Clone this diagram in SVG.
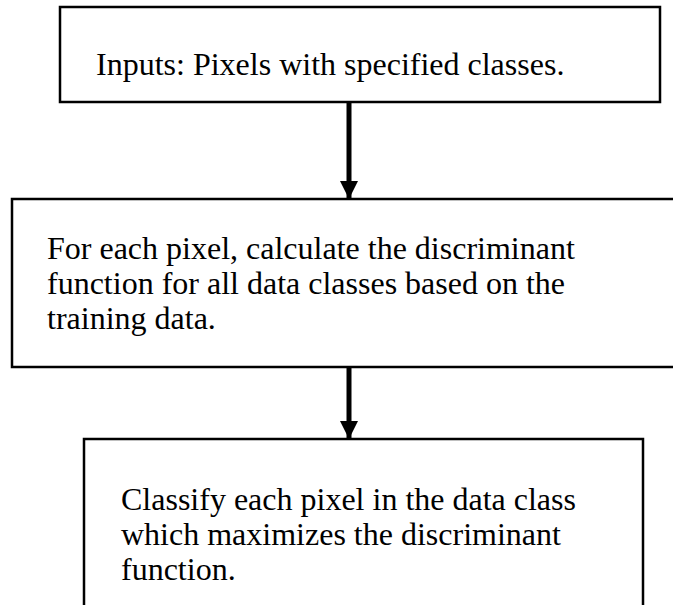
<svg xmlns="http://www.w3.org/2000/svg" width="673" height="605" viewBox="0 0 673 605">
<defs>
<style>
.box{fill:#fff;stroke:#000;stroke-width:2.5}
.t{font-family:"Liberation Serif","Times New Roman",serif;font-size:32px;fill:#000}
.c{stroke:#000;stroke-width:5;fill:none}
</style>
<marker id="ah" markerUnits="userSpaceOnUse" markerWidth="18" markerHeight="18" refX="17" refY="9" orient="auto" viewBox="0 0 18 18">
<path d="M0,0 L18,9 L0,18 Z" fill="#000"/>
</marker>
</defs>
<rect width="673" height="605" fill="#fff"/>
<g id="n1">
<rect class="box" x="60" y="7" width="600" height="95"/>
<text class="t" x="96" y="75">Inputs: Pixels with specified classes.</text>
</g>
<g id="n2">
<rect class="box" x="12" y="199" width="680" height="168"/>
<text class="t" x="47" y="259">For each pixel, calculate the discriminant</text>
<text class="t" x="47" y="294">function for all data classes based on the</text>
<text class="t" x="47" y="329">training data.</text>
</g>
<g id="n3">
<rect class="box" x="84" y="439" width="559" height="190"/>
<text class="t" x="121" y="510">Classify each pixel in the data class</text>
<text class="t" x="121" y="545">which maximizes the discriminant</text>
<text class="t" x="121" y="580">function.</text>
</g>
<g id="connectors">
<line class="c" x1="349" y1="103" x2="349" y2="198" marker-end="url(#ah)"/>
<line class="c" x1="349" y1="368" x2="349" y2="438" marker-end="url(#ah)"/>
</g>
</svg>
